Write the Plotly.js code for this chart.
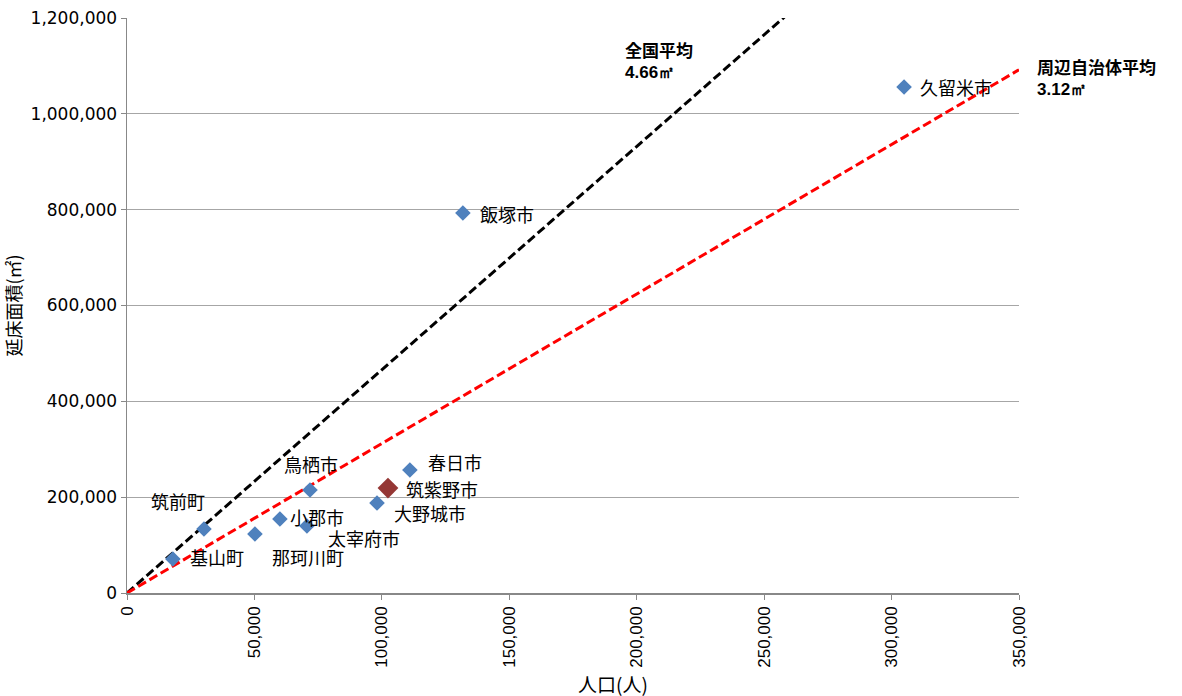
<!DOCTYPE html>
<html>
<head>
<meta charset="utf-8">
<script src="https://cdn.plot.ly/plotly-3.0.1.min.js"></script>
<style>html,body{margin:0;padding:0;background:#fff;}#chart{width:1182px;height:696px;}</style>
</head>
<body>
<div id="chart"></div>
<script>
// Data
const cities = ["久留米市","飯塚市","春日市","大野城市","鳥栖市","太宰府市","小郡市","那珂川町","筑前町","基山町"];
const population = [304900, 131800, 111000, 98100, 71800, 70600, 60000, 50200, 30200, 18000];
const floorArea = [1056000, 793000, 256700, 187800, 215000, 139800, 154400, 123100, 133600, 71000];
const highlightCity = ["筑紫野市"];
const highlightPop = [102400];
const highlightArea = [219000];
const avgNames = ["全国平均", "周辺自治体平均"];
const avgValues = [4.66, 3.12];
const xTicks = [0, 50000, 100000, 150000, 200000, 250000, 300000, 350000];
const yTicks = [0, 200000, 400000, 600000, 800000, 1000000, 1200000];
const xTitle = "人口(人)";
const yTitle = "延床面積(㎡)";

const xMax = 350000, yMax = 1200000;
const lineColors = ["#000000", "#FF0000"];
const fontJP = "'Noto Sans CJK JP', 'Noto Sans', sans-serif";

const traces = [];
avgValues.forEach((s, i) => {
  traces.push({
    x: [0, xMax], y: [0, s * xMax], mode: "lines", type: "scatter",
    line: {color: lineColors[i], width: 3, dash: "9px,4px"},
    hoverinfo: "skip", showlegend: false
  });
});
traces.push({
  x: population, y: floorArea, mode: "markers", type: "scatter",
  marker: {symbol: "diamond", color: "#4F81BD", size: 12},
  text: cities, showlegend: false
});
traces.push({
  x: highlightPop, y: highlightArea, mode: "markers", type: "scatter",
  marker: {symbol: "diamond", color: "#953735", size: 16},
  text: highlightCity, showlegend: false
});

// label offsets (pixels): [xanchor, xshift, yshift]
const offs = [
  ["left", 14, 0], ["left", 15, -1], ["left", 16, 8], ["left", 15, -10],
  ["center", 1, 26], ["left", 19, -12], ["left", 8, 2], ["left", 15, -23],
  ["center", -26, 28], ["left", 15, 2]
];
const annotations = [];
cities.forEach((c, i) => {
  annotations.push({
    x: population[i], y: floorArea[i], xref: "x", yref: "y", text: c,
    showarrow: false, xanchor: offs[i][0], yanchor: "middle",
    xshift: offs[i][1], yshift: offs[i][2],
    font: {family: fontJP, size: 18, color: "#000"}
  });
});
annotations.push({
  x: highlightPop[0], y: highlightArea[0], xref: "x", yref: "y", text: highlightCity[0],
  showarrow: false, xanchor: "left", yanchor: "middle", xshift: 16, yshift: -1,
  font: {family: fontJP, size: 18, color: "#000"}
});
// average labels (name line and value line)
const avgPos = [[0.556, 0.946, 0.906], [1.018, 0.9165, 0.8765]];
avgNames.forEach((n, i) => {
  annotations.push({
    x: avgPos[i][0], y: avgPos[i][1], xref: "paper", yref: "paper",
    text: "<b>" + n + "</b>", showarrow: false, xanchor: "left", yanchor: "middle",
    font: {family: fontJP, size: 17, color: "#000"}
  });
  annotations.push({
    x: avgPos[i][0], y: avgPos[i][2], xref: "paper", yref: "paper",
    text: "<b>" + avgValues[i].toFixed(2) + "㎡</b>", showarrow: false, xanchor: "left", yanchor: "middle",
    font: {family: "'Liberation Sans', Arial, sans-serif", size: 17, color: "#000"}
  });
});
// x axis title
annotations.push({
  x: 0.545, y: -0.158, xref: "paper", yref: "paper", text: xTitle,
  showarrow: false, xanchor: "center", yanchor: "middle",
  font: {family: fontJP, size: 19, color: "#000"}
});

const layout = {
  width: 1182, height: 696,
  margin: {l: 127, r: 163, t: 18, b: 103},
  paper_bgcolor: "#fff", plot_bgcolor: "#fff",
  font: {family: fontJP, color: "#000"},
  xaxis: {
    range: [0, xMax], tickvals: xTicks,
    ticktext: xTicks.map(v => v.toLocaleString("en-US")),
    tickangle: -90, showgrid: false, zeroline: false,
    showline: true, linecolor: "#888", linewidth: 1.5,
    ticks: "outside", ticklen: 5, tickcolor: "#888",
    tickfont: {family: "'Liberation Sans', Arial, sans-serif", size: 17, color: "#000"}
  },
  yaxis: {
    range: [0, yMax], tickvals: yTicks,
    ticktext: yTicks.map(v => v.toLocaleString("en-US")),
    showgrid: true, gridcolor: "#A6A6A6", gridwidth: 1, zeroline: false,
    showline: true, linecolor: "#888", linewidth: 1.5,
    ticks: "outside", ticklen: 5, tickcolor: "#888",
    tickfont: {family: "'DejaVu Sans', sans-serif", size: 17, color: "#000"},
    title: {text: yTitle, font: {family: fontJP, size: 18, color: "#000"}, standoff: 6}
  },
  annotations: annotations,
  showlegend: false
};

Plotly.newPlot("chart", traces, layout, {displayModeBar: false, staticPlot: true});
</script>
</body>
</html>
